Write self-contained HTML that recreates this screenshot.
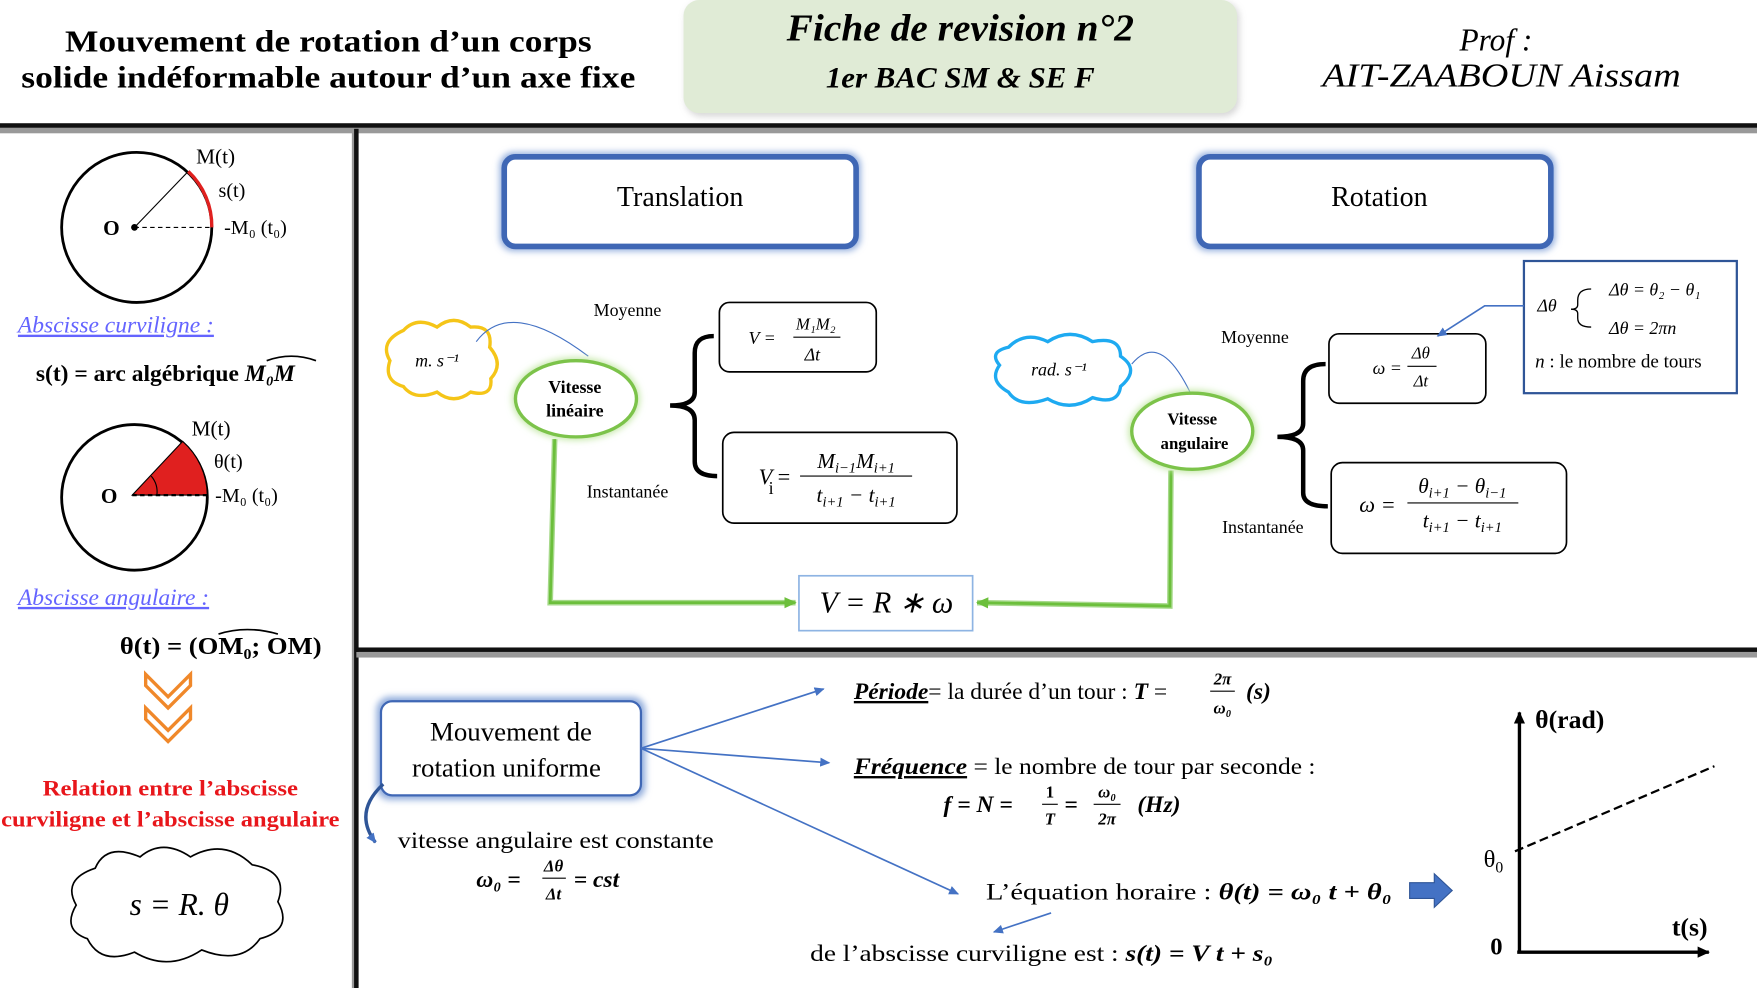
<!DOCTYPE html>
<html><head><meta charset="utf-8"><style>
html,body{margin:0;padding:0;background:#fff;}
svg{display:block}
text{font-family:"Liberation Serif",serif;}
</style></head><body>
<svg width="1757" height="988" viewBox="0 0 1568 882" preserveAspectRatio="none" xmlns="http://www.w3.org/2000/svg">
<defs>
<marker id="ab" markerWidth="10" markerHeight="10" refX="8" refY="5" orient="auto" markerUnits="userSpaceOnUse"><path d="M0,1 L9,5 L0,9 z" fill="#4472c4"/></marker>
<marker id="ag" markerWidth="12" markerHeight="12" refX="10" refY="6" orient="auto" markerUnits="userSpaceOnUse"><path d="M0,1 L11,6 L0,11 z" fill="#6cbf3c"/></marker>
<marker id="ak" markerWidth="12" markerHeight="12" refX="10" refY="6" orient="auto" markerUnits="userSpaceOnUse"><path d="M0,1 L11,6 L0,11 z" fill="#000"/></marker>
<filter id="glow" x="-20%" y="-30%" width="140%" height="160%"><feGaussianBlur stdDeviation="3"/></filter>
</defs>

<!-- header -->
<text x="293" y="46" font-size="27" font-weight="bold" text-anchor="middle" textLength="470" lengthAdjust="spacingAndGlyphs">Mouvement de rotation d’un corps</text>
<text x="293" y="78" font-size="27" font-weight="bold" text-anchor="middle" textLength="548" lengthAdjust="spacingAndGlyphs">solide indéformable autour d’un axe fixe</text>
<rect x="612" y="2" width="494" height="102" rx="14" fill="#bbb" opacity="0.6" filter="url(#glow)"/>
<rect x="610" y="0" width="494" height="101" rx="14" fill="#e0ebd6"/>
<text x="857" y="36" font-size="34" font-style="italic" font-weight="bold" text-anchor="middle" textLength="310" lengthAdjust="spacingAndGlyphs">Fiche de revision n°2</text>
<text x="857" y="78" font-size="26" font-style="italic" font-weight="bold" text-anchor="middle" textLength="240" lengthAdjust="spacingAndGlyphs">1er BAC SM &amp; SE F</text>
<text x="1335" y="45" font-size="28" font-style="italic" text-anchor="middle">Prof :</text>
<text x="1340" y="77" font-size="30" font-style="italic" text-anchor="middle" textLength="320" lengthAdjust="spacingAndGlyphs">AIT-ZAABOUN Aissam</text>

<!-- frame lines -->
<rect x="0" y="113" width="1568" height="6" fill="#999"/>
<rect x="0" y="110" width="1568" height="4" fill="#111"/>
<rect x="314" y="115" width="6" height="767" fill="#999"/>
<rect x="316" y="115" width="4" height="767" fill="#111"/>
<rect x="318" y="582" width="1250" height="5" fill="#999"/>
<rect x="318" y="578" width="1250" height="4" fill="#111"/>

<!-- left panel circle 1 -->
<circle cx="122" cy="203" r="67" fill="none" stroke="#000" stroke-width="2.5"/>
<line x1="120" y1="203" x2="190" y2="203" stroke="#000" stroke-dasharray="4,3"/>
<line x1="120" y1="203" x2="168" y2="153" stroke="#000"/>
<path d="M168,153 A67,67 0 0 1 189,203" fill="none" stroke="#e0201f" stroke-width="3"/>
<circle cx="120" cy="203" r="3"/>
<text x="92" y="210" font-size="19" font-weight="bold">O</text>
<text x="175" y="146" font-size="19">M(t)</text>
<text x="195" y="176" font-size="18">s(t)</text>
<text x="200" y="209" font-size="18">-M₀ (t₀)</text>
<text x="16" y="297" font-size="21" font-style="italic" fill="#6464ff" text-decoration="underline">Abscisse curviligne :</text>
<text x="32" y="340" font-size="21" font-weight="bold">s(t) = arc algébrique <tspan font-style="italic">M₀M</tspan></text>
<path d="M238,322 Q260,314 282,322" fill="none" stroke="#000" stroke-width="1.5"/>

<!-- circle 2 -->
<circle cx="120" cy="444" r="65" fill="none" stroke="#000" stroke-width="2.5"/>
<path d="M118,442 L163,394 A65,65 0 0 1 185,442 Z" fill="#e0201f" stroke="#000" stroke-width="1"/>
<line x1="118" y1="442" x2="185" y2="442" stroke="#000" stroke-dasharray="4,3" stroke-width="2"/>
<path d="M140,442 A22,22 0 0 0 135,425" fill="none" stroke="#000"/>
<text x="90" y="449" font-size="19" font-weight="bold">O</text>
<text x="171" y="389" font-size="19">M(t)</text>
<text x="191" y="418" font-size="18">θ(t)</text>
<text x="192" y="448" font-size="18">-M₀ (t₀)</text>
<text x="16" y="540" font-size="21" font-style="italic" fill="#6464ff" text-decoration="underline">Abscisse angulaire :</text>
<text x="107" y="584" font-size="22" font-weight="bold" textLength="180" lengthAdjust="spacingAndGlyphs">θ(t) = (OM₀; OM)</text>
<path d="M195,566 Q220,558 248,566" fill="none" stroke="#000" stroke-width="1.5"/>
<!-- chevrons -->
<path d="M130,602 L150,622 L170,602 L170,612 L150,632 L130,612 Z" fill="none" stroke="#f0882a" stroke-width="3"/>
<path d="M130,632 L150,652 L170,632 L170,642 L150,662 L130,642 Z" fill="none" stroke="#f0882a" stroke-width="3"/>
<text x="152" y="710" font-size="20" font-weight="bold" fill="#e8161b" text-anchor="middle" font-family="Liberation Sans" textLength="228" lengthAdjust="spacingAndGlyphs">Relation entre l’abscisse</text>
<text x="152" y="738" font-size="20" font-weight="bold" fill="#e8161b" text-anchor="middle" font-family="Liberation Sans" textLength="302" lengthAdjust="spacingAndGlyphs">curviligne et l’abscisse angulaire</text>
<path d="M85,775 Q95,752 125,765 Q145,748 170,765 Q200,748 225,772 Q258,778 248,805 Q262,830 232,838 Q215,862 180,848 Q150,868 120,850 Q90,862 78,838 Q55,830 68,808 Q55,785 85,775 Z" fill="#fff" stroke="#000" stroke-width="1.5"/>
<text x="160" y="817" font-size="28" font-style="italic" text-anchor="middle">s = R. θ</text>

<!-- Translation / Rotation boxes -->
<rect x="446" y="136" width="322" height="88" rx="12" fill="#8eaadb" filter="url(#glow)"/>
<rect x="450" y="140" width="314" height="80" rx="10" fill="#fff" stroke="#3f67b5" stroke-width="5"/>
<text x="607" y="184" font-size="25" text-anchor="middle">Translation</text>
<rect x="1066" y="136" width="322" height="88" rx="12" fill="#8eaadb" filter="url(#glow)"/>
<rect x="1070" y="140" width="314" height="80" rx="10" fill="#fff" stroke="#3f67b5" stroke-width="5"/>
<text x="1231" y="184" font-size="25" text-anchor="middle">Rotation</text>

<!-- yellow cloud -->
<path d="M360,295 Q372,282 390,292 Q405,280 420,292 Q440,290 437,310 Q450,325 438,338 Q440,355 420,350 Q405,362 390,350 Q370,358 360,345 Q342,340 348,322 Q338,305 360,295 Z" fill="#fff" stroke="#f5c518" stroke-width="3"/>
<text x="390" y="327" font-size="16" font-style="italic" text-anchor="middle">m. s⁻¹</text>
<path d="M425,305 Q455,265 525,318" fill="none" stroke="#4472c4" stroke-width="1"/>
<ellipse cx="514" cy="356" rx="57" ry="37" fill="#c5e8a8" filter="url(#glow)"/>
<ellipse cx="514" cy="356" rx="54" ry="34" fill="#fff" stroke="#7cc34a" stroke-width="3"/>
<text x="513" y="351" font-size="16" font-weight="bold" text-anchor="middle">Vitesse</text>
<text x="513" y="372" font-size="16" font-weight="bold" text-anchor="middle">linéaire</text>
<text x="560" y="282" font-size="16" text-anchor="middle">Moyenne</text>
<text x="560" y="444" font-size="16" text-anchor="middle">Instantanée</text>
<path d="M637,300 Q620,300 620,315 L620,350 Q620,362 598,362 Q620,362 620,375 L620,412 Q620,425 640,425" fill="none" stroke="#000" stroke-width="4"/>
<rect x="642" y="270" width="140" height="62" rx="9" fill="#fff" stroke="#000" stroke-width="1.5"/>
<text x="668" y="307" font-size="16" font-style="italic">V =</text>
<text x="728" y="294" font-size="15" font-style="italic" text-anchor="middle">M₁M₂</text>
<line x1="708" y1="301" x2="750" y2="301" stroke="#000"/>
<text x="725" y="322" font-size="16" font-style="italic" text-anchor="middle">Δt</text>
<rect x="645" y="386" width="209" height="81" rx="10" fill="#fff" stroke="#000" stroke-width="1.5"/>
<text x="677" y="432" font-size="20" font-style="italic">V</text><text x="686" y="441" font-size="16">i</text><text x="694" y="432" font-size="20">=</text>
<text x="764" y="418" font-size="19" font-style="italic" text-anchor="middle">M<tspan font-size="13" dy="4">i−1</tspan><tspan dy="-4">M</tspan><tspan font-size="13" dy="4">i+1</tspan></text>
<line x1="714" y1="425" x2="814" y2="425" stroke="#000"/>
<text x="764" y="448" font-size="19" font-style="italic" text-anchor="middle">t<tspan font-size="13" dy="4">i+1</tspan><tspan dy="-4"> − t</tspan><tspan font-size="13" dy="4">i+1</tspan></text>

<!-- green connectors -->
<polyline points="495,392 491,538 710,538" fill="none" stroke="#a6d98a" stroke-width="5"/>
<polyline points="495,392 491,538 710,538" fill="none" stroke="#6cbf3c" stroke-width="2.5" marker-end="url(#ag)"/>
<polyline points="1045,420 1044,541 872,538" fill="none" stroke="#a6d98a" stroke-width="5"/>
<polyline points="1045,420 1044,541 872,538" fill="none" stroke="#6cbf3c" stroke-width="2.5" marker-end="url(#ag)"/>
<rect x="713" y="514" width="155" height="49" fill="#fff" stroke="#8eb4e3" stroke-width="1.5"/>
<text x="791" y="547" font-size="27" font-style="italic" text-anchor="middle">V = R ∗ ω</text>

<!-- blue cloud -->
<path d="M900,310 Q915,295 935,305 Q955,292 975,305 Q1000,300 1000,318 Q1018,330 1000,345 Q998,362 975,355 Q955,368 935,356 Q910,365 900,350 Q882,340 892,326 Q882,314 900,310 Z" fill="#fff" stroke="#1eaaf1" stroke-width="3"/>
<text x="945" y="335" font-size="16" font-style="italic" text-anchor="middle">rad. s⁻¹</text>
<path d="M1010,325 Q1035,295 1062,350" fill="none" stroke="#4472c4" stroke-width="1"/>
<ellipse cx="1064" cy="385" rx="57" ry="37" fill="#c5e8a8" filter="url(#glow)"/>
<ellipse cx="1064" cy="385" rx="54" ry="34" fill="#fff" stroke="#7cc34a" stroke-width="3"/>
<text x="1064" y="379" font-size="15" font-weight="bold" text-anchor="middle">Vitesse</text>
<text x="1066" y="401" font-size="15" font-weight="bold" text-anchor="middle">angulaire</text>
<text x="1120" y="306" font-size="16" text-anchor="middle">Moyenne</text>
<text x="1127" y="476" font-size="16" text-anchor="middle">Instantanée</text>
<path d="M1183,325 Q1163,325 1163,340 L1163,378 Q1163,390 1140,390 Q1163,390 1163,402 L1163,440 Q1163,452 1185,452" fill="none" stroke="#000" stroke-width="4"/>
<rect x="1186" y="298" width="140" height="62" rx="9" fill="#fff" stroke="#000" stroke-width="1.5"/>
<text x="1225" y="334" font-size="16" font-style="italic">ω =</text>
<text x="1268" y="320" font-size="15" font-style="italic" text-anchor="middle">Δθ</text>
<line x1="1256" y1="327" x2="1282" y2="327" stroke="#000"/>
<text x="1268" y="345" font-size="15" font-style="italic" text-anchor="middle">Δt</text>
<rect x="1188" y="413" width="210" height="81" rx="10" fill="#fff" stroke="#000" stroke-width="1.5"/>
<text x="1213" y="457" font-size="20" font-style="italic">ω =</text>
<text x="1305" y="440" font-size="19" font-style="italic" text-anchor="middle">θ<tspan font-size="13" dy="4">i+1</tspan><tspan dy="-4"> − θ</tspan><tspan font-size="13" dy="4">i−1</tspan></text>
<line x1="1256" y1="449" x2="1355" y2="449" stroke="#000"/>
<text x="1305" y="471" font-size="19" font-style="italic" text-anchor="middle">t<tspan font-size="13" dy="4">i+1</tspan><tspan dy="-4"> − t</tspan><tspan font-size="13" dy="4">i+1</tspan></text>
<rect x="1360" y="233" width="190" height="118" fill="#fff" stroke="#2f5597" stroke-width="2"/>
<text x="1372" y="278" font-size="16" font-style="italic">Δθ</text>
<path d="M1420,258 Q1408,258 1408,268 L1408,272 Q1408,276 1402,276 Q1408,276 1408,280 L1408,284 Q1408,292 1420,292" fill="none" stroke="#000" stroke-width="1.2"/>
<text x="1436" y="264" font-size="16" font-style="italic">Δθ = θ₂ − θ₁</text>
<text x="1436" y="298" font-size="16" font-style="italic">Δθ = 2πn</text>
<text x="1370" y="328" font-size="17"><tspan font-style="italic">n</tspan> : le nombre de tours</text>
<polyline points="1360,273 1325,273 1283,300" fill="none" stroke="#4472c4" stroke-width="1.5" marker-end="url(#ab)"/>

<!-- bottom -->
<rect x="336" y="622" width="240" height="92" rx="12" fill="#8eaadb" filter="url(#glow)"/>
<rect x="340" y="626" width="232" height="84" rx="10" fill="#fff" stroke="#3f67b5" stroke-width="2"/>
<text x="456" y="661" font-size="24" text-anchor="middle">Mouvement de</text>
<text x="452" y="693" font-size="24" text-anchor="middle">rotation uniforme</text>
<path d="M342,700 Q315,725 335,752" fill="none" stroke="#2f5597" stroke-width="3" marker-end="url(#ab)"/>
<line x1="572" y1="668" x2="735" y2="615" stroke="#4472c4" stroke-width="1.5" marker-end="url(#ab)"/>
<line x1="572" y1="668" x2="740" y2="681" stroke="#4472c4" stroke-width="1.5" marker-end="url(#ab)"/>
<line x1="572" y1="668" x2="855" y2="798" stroke="#4472c4" stroke-width="1.5" marker-end="url(#ab)"/>
<text x="762" y="624" font-size="21"><tspan font-weight="bold" font-style="italic" text-decoration="underline">Période</tspan>= la durée d’un tour : <tspan font-weight="bold" font-style="italic">T</tspan> =</text>
<text x="1091" y="611" font-size="15" font-weight="bold" font-style="italic" text-anchor="middle">2π</text>
<line x1="1080" y1="617" x2="1102" y2="617" stroke="#000"/>
<text x="1091" y="637" font-size="15" font-weight="bold" font-style="italic" text-anchor="middle">ω₀</text>
<text x="1112" y="624" font-size="21" font-weight="bold" font-style="italic">(s)</text>
<text x="762" y="691" font-size="21" textLength="412" lengthAdjust="spacingAndGlyphs"><tspan font-weight="bold" font-style="italic" text-decoration="underline">Fréquence</tspan> = le nombre de tour par seconde :</text>
<text x="842" y="725" font-size="21" font-weight="bold" font-style="italic">f = N =</text>
<text x="937" y="712" font-size="15" font-weight="bold" text-anchor="middle">1</text>
<line x1="930" y1="718" x2="944" y2="718" stroke="#000"/>
<text x="937" y="736" font-size="15" font-weight="bold" font-style="italic" text-anchor="middle">T</text>
<text x="950" y="725" font-size="21" font-weight="bold">=</text>
<text x="988" y="712" font-size="15" font-weight="bold" font-style="italic" text-anchor="middle">ω₀</text>
<line x1="976" y1="718" x2="1000" y2="718" stroke="#000"/>
<text x="988" y="736" font-size="15" font-weight="bold" font-style="italic" text-anchor="middle">2π</text>
<text x="1015" y="725" font-size="21" font-weight="bold" font-style="italic">(Hz)</text>
<text x="355" y="757" font-size="21" textLength="282" lengthAdjust="spacingAndGlyphs">vitesse angulaire  est constante</text>
<text x="425" y="792" font-size="21" font-weight="bold" font-style="italic">ω₀ =</text>
<text x="494" y="778" font-size="15" font-weight="bold" font-style="italic" text-anchor="middle">Δθ</text>
<line x1="484" y1="784" x2="505" y2="784" stroke="#000"/>
<text x="494" y="803" font-size="15" font-weight="bold" font-style="italic" text-anchor="middle">Δt</text>
<text x="512" y="792" font-size="21" font-weight="bold" font-style="italic">= cst</text>
<text x="880" y="803" font-size="21" textLength="362" lengthAdjust="spacingAndGlyphs">L’équation  horaire : <tspan font-weight="bold" font-style="italic">θ(t) = ω₀ t + θ₀</tspan></text>
<path d="M1258,788 L1280,788 L1280,780 L1296,795 L1280,810 L1280,802 L1258,802 Z" fill="#4472c4" stroke="#2f5597"/>
<line x1="938" y1="815" x2="887" y2="832" stroke="#4472c4" stroke-width="1.5" marker-end="url(#ab)"/>
<text x="723" y="858" font-size="21" textLength="413" lengthAdjust="spacingAndGlyphs">de l’abscisse curviligne est : <tspan font-weight="bold" font-style="italic">s(t) = V t + s₀</tspan></text>

<!-- graph -->
<line x1="1356" y1="850" x2="1356" y2="636" stroke="#000" stroke-width="3" marker-end="url(#ak)"/>
<line x1="1354" y1="850" x2="1525" y2="850" stroke="#000" stroke-width="3" marker-end="url(#ak)"/>
<line x1="1352" y1="760" x2="1530" y2="684" stroke="#000" stroke-width="2" stroke-dasharray="8,4"/>
<text x="1370" y="650" font-size="23" font-weight="bold">θ(rad)</text>
<text x="1324" y="774" font-size="22">θ<tspan font-size="14" dy="5">0</tspan></text>
<text x="1330" y="852" font-size="22" font-weight="bold">0</text>
<text x="1492" y="835" font-size="23" font-weight="bold">t(s)</text>
</svg>
</body></html>
